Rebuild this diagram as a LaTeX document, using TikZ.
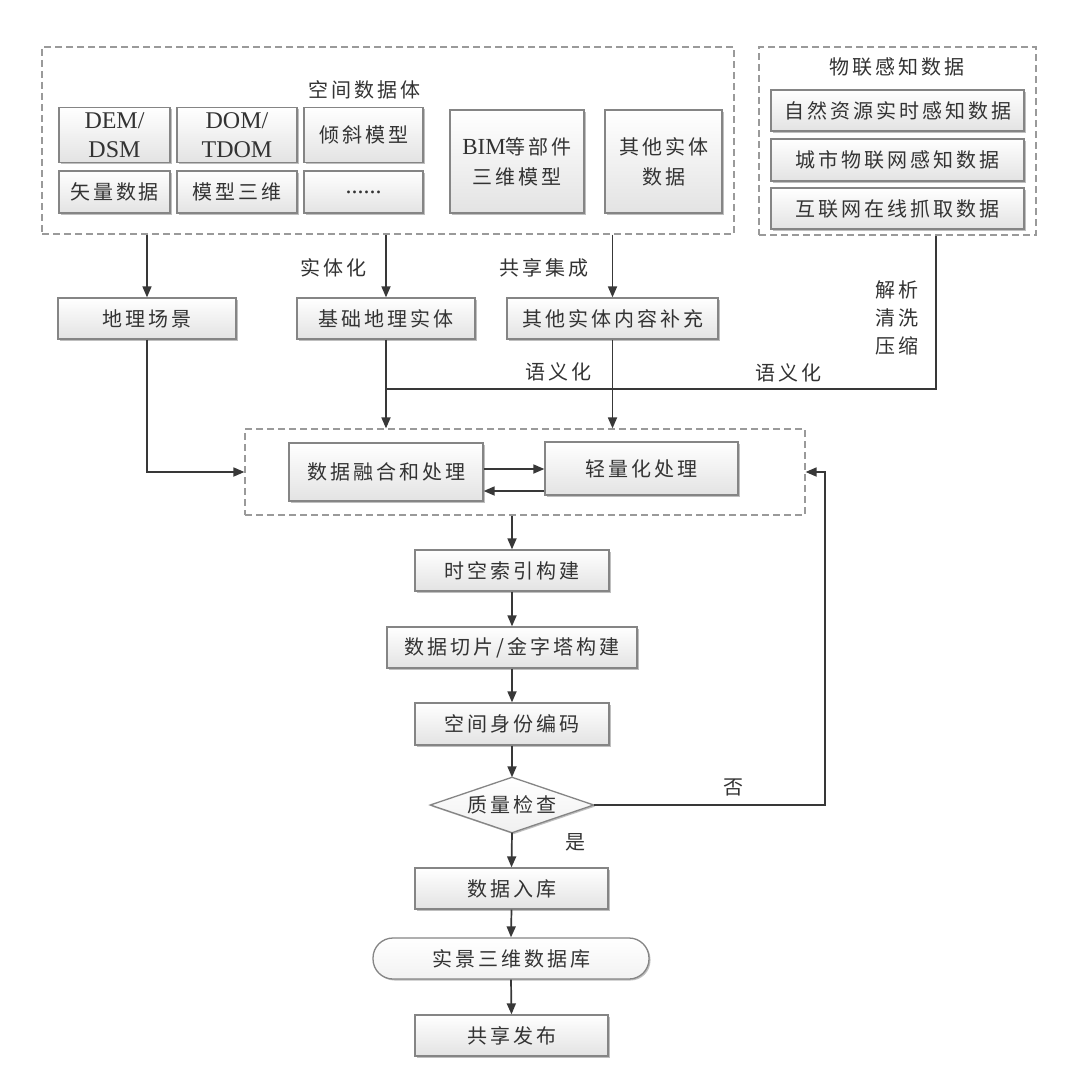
\documentclass[tikz,border=0pt]{standalone}
\usepackage{fontspec}
\setmainfont[LetterSpace=15]{Noto Sans CJK SC}
\newfontfamily\lat{Liberation Serif}
\usetikzlibrary{arrows.meta,shapes.geometric,shadows}
\definecolor{txt}{HTML}{333333}
\definecolor{ln}{HTML}{383838}
\definecolor{bd}{HTML}{858585}
\definecolor{dsh}{HTML}{9A9A9A}
\tikzset{
 base/.style={font=\fontsize{20}{30}\selectfont, text=txt, inner sep=0pt, align=center},
 box/.style={base, draw=bd, line width=1.3pt, top color=white, bottom color=gray!22,
   drop shadow={shadow xshift=1.5pt, shadow yshift=-1.5pt, opacity=0.25, fill=black}},
 dbox/.style={draw=dsh, line width=1.2pt, dash pattern=on 7pt off 4pt, inner sep=0pt},
 arr/.style={draw=ln, line width=1.7pt, -{Triangle[length=11pt,width=9pt]}},
 lnk/.style={draw=ln, line width=1.7pt},
 lab/.style={base},
 latf/.style={font=\lat\fontsize{24}{29}\selectfont},
}
\begin{document}
\begin{tikzpicture}[x=1pt,y=-1pt]
\useasboundingbox[fill=white] (0,0) rectangle (1080,1068);

% top left dashed group
\node[dbox, minimum width=692pt, minimum height=187pt] (sp) at (388,140.5) {};
\node[lab] (sptitle) at (364,90) {空间数据体};
\node[box, latf, minimum width=111pt, minimum height=55pt] (dem) at (114.5,135) {DEM/\\DSM};
\node[box, latf, minimum width=120pt, minimum height=55pt] (dom) at (237,135) {DOM/\\TDOM};
\node[box, minimum width=119pt, minimum height=55pt] (qx) at (363.5,135) {倾斜模型};
\node[box, minimum width=111pt, minimum height=42pt] (sl) at (114.5,192) {矢量数据};
\node[box, minimum width=120pt, minimum height=42pt] (mx) at (237,192) {模型三维};
\node[box, minimum width=119pt, minimum height=42pt] (dots) at (363.5,192) {{\lat\fontsize{24}{29}\selectfont ......}};
\node[box, minimum width=134pt, minimum height=103pt] (bim) at (517,161.5) {{\lat\fontsize{23}{30}\selectfont BIM}等部件\\三维模型};
\node[box, minimum width=117pt, minimum height=103pt] (qt) at (663.5,161.5) {其他实体\\数据};

% IoT dashed group
\node[dbox, minimum width=277pt, minimum height=188pt] (iot) at (897.5,141) {};
\node[lab] (iottitle) at (897,67) {物联感知数据};
\node[box, minimum width=253pt, minimum height=41pt] (i1) at (897.5,110.5) {自然资源实时感知数据};
\node[box, minimum width=253pt, minimum height=42pt] (i2) at (897.5,160) {城市物联网感知数据};
\node[box, minimum width=253pt, minimum height=41pt] (i3) at (897.5,208.5) {互联网在线抓取数据};

% second row
\node[box, minimum width=178pt, minimum height=41pt] (dl) at (147,318.5) {地理场景};
\node[box, minimum width=178pt, minimum height=41pt] (jc) at (386,318.5) {基础地理实体};
\node[box, minimum width=211pt, minimum height=41pt] (qtb) at (612.5,318.5) {其他实体内容补充};

\node[lab] (l1) at (333,268) {实体化};
\node[lab] (l2) at (544,268) {共享集成};
\node[lab] (l3) at (558,372) {语义化};
\node[lab] (l4) at (788,373) {语义化};
\node[lab, font=\fontsize{20}{28}\selectfont] (l5) at (897,318) {解析\\清洗\\压缩};

% processing group
\node[dbox, minimum width=560pt, minimum height=86pt] (proc) at (525,472) {};
\node[box, minimum width=194pt, minimum height=58pt] (rh) at (386,472) {数据融合和处理};
\node[box, minimum width=193pt, minimum height=53pt] (qlh) at (641.5,468.5) {轻量化处理};

% main column
\node[box, minimum width=194pt, minimum height=41pt] (sk) at (512,570.5) {时空索引构建};
\node[box, minimum width=250pt, minimum height=41pt] (qp) at (512,647.5) {数据切片/金字塔构建};
\node[box, minimum width=194pt, minimum height=42pt] (sf) at (512,724) {空间身份编码};
\node[base, minimum width=163pt, minimum height=55pt] (zl) at (512,805) {};
\path[draw=bd, line width=1.3pt, top color=white, bottom color=gray!12,
   drop shadow={shadow xshift=1.5pt, shadow yshift=-1.5pt, opacity=0.25, fill=black}]
   (zl.north) -- (zl.east) -- (zl.south) -- (zl.west) -- cycle;
\node[base] (zlt) at (zl.center) {质量检查};
\node[box, minimum width=193pt, minimum height=41pt] (rk) at (511.5,888.5) {数据入库};
\node[box, minimum width=276pt, minimum height=41pt, rounded corners=20pt, bottom color=gray!10] (sj) at (511,958.5) {实景三维数据库};
\node[box, minimum width=193pt, minimum height=41pt] (fb) at (511.5,1035.5) {共享发布};

\node[lab] (no) at (733,787) {否};
\node[lab] (yes) at (575,842) {是};

% connectors
\draw[arr] (sp.south -| dl.north) -- (dl.north);
\draw[arr] (sp.south -| jc.north) -- (jc.north);
\draw[arr] (sp.south -| qtb.north) -- (qtb.north);
\draw[arr] (dl.south) |- (proc.west);
\draw[arr] (jc.south) -- (jc.south |- proc.north);
\draw[arr] (qtb.south) -- (qtb.south |- proc.north);
\coordinate (c1) at (936,389);
\draw[lnk] (c1 |- iot.south) -- (c1) -- (c1 -| jc.south);
\draw[arr] ([yshift=3pt]rh.east) -- ([yshift=3pt]rh.east -| qlh.west);
\draw[arr] ([yshift=-22.5pt]qlh.west) -- ([yshift=-22.5pt]qlh.west -| rh.east);
\draw[arr] (proc.south -| sk.north) -- (sk.north);
\draw[arr] (sk.south) -- (qp.north);
\draw[arr] (qp.south) -- (sf.north);
\draw[arr] (sf.south) -- (zl.north);
\draw[arr] (zl.south) -- (rk.north);
\draw[arr] (rk.south) -- (sj.north);
\draw[arr] (sj.south) -- (fb.north);
\coordinate (c2) at (825,805);
\draw[arr] (zl.east) -- (c2) -- (c2 |- proc.east) -- (proc.east);
\end{tikzpicture}
\end{document}
